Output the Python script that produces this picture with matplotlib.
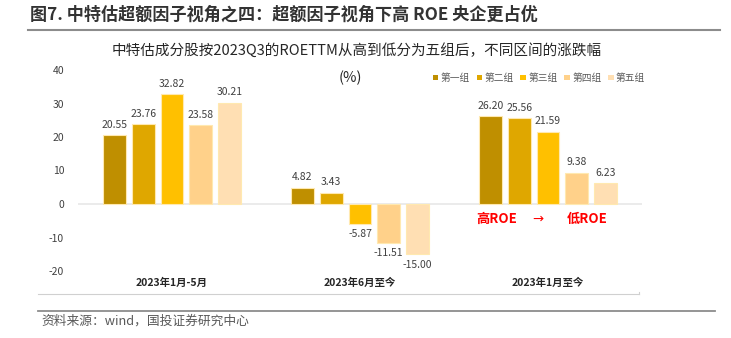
import matplotlib
matplotlib.use("Agg")
import matplotlib.pyplot as plt
import numpy as np
from matplotlib.lines import Line2D

plt.rcParams['font.family'] = ['Noto Sans CJK SC', 'DejaVu Sans']

periods = ['2023年1月-5月', '2023年6月至今', '2023年1月至今']
groups = ['第一组', '第二组', '第三组', '第四组', '第五组']
values = {
    '第一组': [20.55, 4.82, 26.20],
    '第二组': [23.76, 3.43, 25.56],
    '第三组': [32.82, -5.87, 21.59],
    '第四组': [23.58, -11.51, 9.38],
    '第五组': [30.21, -15.00, 6.23],
}
colors = ['#BF8F00', '#DFA700', '#FFC000', '#FFD18A', '#FFDFB3']
yticks = [-20, -10, 0, 10, 20, 30, 40]

W, H = 731, 338
fig = plt.figure(figsize=(W / 100, H / 100), dpi=100)
ax = fig.add_axes([78 / W, (H - 271) / H, (642 - 78) / W, (271 - 70) / H])

x = np.arange(len(periods))
bw = 0.122
step = 0.153
for i, g in enumerate(groups):
    xs = x + (i - 2) * step
    vals = values[g]
    ax.bar(xs, vals, width=bw, color=colors[i], edgecolor='#FFE9B0', linewidth=0.8, label=g, zorder=3)
    for xi, v in zip(xs, vals):
        if v >= 0:
            ax.text(xi, v + 1.6, f'{v:.2f}', ha='center', va='bottom', fontsize=7.5, color='#404040')
        else:
            ax.text(xi, v - 1.6, f'{v:.2f}', ha='center', va='top', fontsize=7.5, color='#404040')

ax.set_xlim(-0.5, 2.5)
ax.set_ylim(-20, 40)
ax.set_yticks(yticks)
ax.set_yticklabels([str(t) for t in yticks], fontsize=7.5, color='#404040')
ax.set_xticks(x)
ax.set_xticklabels(periods, fontsize=7.5, fontweight='bold', color='#262626')
ax.tick_params(axis='both', length=0)
ax.tick_params(axis='y', pad=10)
ax.tick_params(axis='x', pad=5)
for s in ax.spines.values():
    s.set_visible(False)
ax.axhline(0, color='#E8E8E8', linewidth=1.2, zorder=1)

# red annotation
ax.text(1.729, -4.5, '高ROE', color='#FF0000', fontsize=9.5, fontweight='bold', ha='center', va='center')
ax.text(1.947, -4.5, '→', color='#FF0000', fontsize=9.5, ha='center', va='center',
        family=['DejaVu Sans'])
ax.text(2.207, -4.5, '低ROE', color='#FF0000', fontsize=9.5, fontweight='bold', ha='center', va='center')

# legend
leg = fig.legend(loc='center', bbox_to_anchor=(539 / W, 1 - 78 / H), ncol=5, frameon=False,
                 fontsize=7, handlelength=0.55, handleheight=0.55, handletextpad=0.25,
                 columnspacing=0.7, labelcolor='#595959')
for h in leg.legend_handles:
    h.set_edgecolor('none')

# titles
fig.text(30 / W, 1 - 15 / H, '图7. 中特估超额因子视角之四：超额因子视角下高 ROE 央企更占优',
         fontsize=12.3, fontweight='bold', color='#333333', ha='left', va='center')
fig.add_artist(Line2D([28 / W, 720 / W], [1 - 30 / H, 1 - 30 / H], color='#8C8C8C', linewidth=1.5))
fig.text(357 / W, 1 - 50 / H, '中特估成分股按2023Q3的ROETTM从高到低分为五组后，不同区间的涨跌幅',
         fontsize=10.5, color='#262626', ha='center', va='center')
fig.text(350 / W, 1 - 78 / H, '(%)', fontsize=10.5, color='#262626', ha='center', va='center')

# chart border & separator
fig.add_artist(Line2D([38 / W, 639 / W], [1 - 294 / H, 1 - 294 / H], color='#D0D0D0', linewidth=0.8))
fig.add_artist(Line2D([639 / W, 639 / W], [1 - 294 / H, 1 - 292 / H], color='#D0D0D0', linewidth=0.8))
fig.add_artist(Line2D([38 / W, 715 / W], [1 - 311 / H, 1 - 311 / H], color='#8C8C8C', linewidth=1.3))
fig.text(41 / W, 1 - 321 / H, '资料来源：wind，国投证券研究中心', fontsize=9.2, color='#595959',
         ha='left', va='center', style='italic')

fig.savefig('out.png', dpi=100)
